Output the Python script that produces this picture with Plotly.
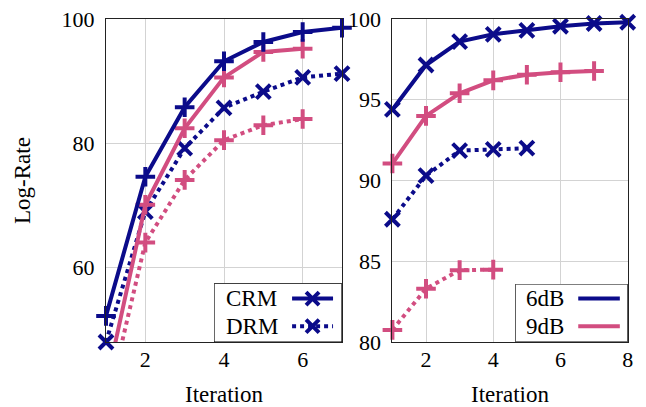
import plotly.graph_objects as go

# ---- data -------------------------------------------------------------
it_left = [1, 2, 3, 4, 5, 6, 7]
crm_6db = [52.2, 74.6, 85.8, 93.2, 96.3, 97.9, 98.6]
crm_9db = [41.0, 70.1, 82.4, 90.6, 94.7, 95.2]
drm_6db = [48.0, 69.0, 79.2, 85.7, 88.3, 90.6, 91.2]
drm_9db = [37.0, 64.0, 74.1, 80.5, 82.9, 83.9]

it_right = [1, 2, 3, 4, 5, 6, 7, 8]
r_crm_6db = [94.4, 97.15, 98.6, 99.05, 99.3, 99.55, 99.72, 99.8]
r_crm_9db = [91.05, 94.0, 95.4, 96.2, 96.55, 96.7, 96.78]
r_drm_6db = [87.6, 90.3, 91.85, 91.93, 92.0]
r_drm_9db = [80.75, 83.3, 84.45, 84.48]

left_xticks = [2, 4, 6]
left_yticks = [60, 80, 100]
right_xticks = [2, 4, 6, 8]
right_yticks = [80, 85, 90, 95, 100]

NAVY = "#0b0b8a"
PINK = "#d24d80"
FONT = "Liberation Serif"
FS_TICK = 22
FS_TEXT = 23
LW = 4
DOT = "4px,4px"

W, H = 646, 407

fig = go.Figure()


def series(x, y, color, dash, symbol, xa, ya, clip):
    fig.add_trace(go.Scatter(
        x=x, y=y, mode="lines+markers", xaxis=xa, yaxis=ya,
        line=dict(color=color, width=LW, dash=dash),
        marker=dict(symbol=symbol, size=14, color=color,
                    line=dict(color=color, width=4)),
        cliponaxis=clip, showlegend=False, hoverinfo="skip"))


# left panel
series(it_left[:len(drm_9db)], drm_9db, PINK, DOT, "cross-thin", "x", "y", True)
series(it_left, drm_6db, NAVY, DOT, "x-thin", "x", "y", False)
series(it_left[:len(crm_9db)], crm_9db, PINK, "solid", "cross-thin", "x", "y", True)
series(it_left, crm_6db, NAVY, "solid", "cross-thin", "x", "y", False)

# right panel
series(it_right[:len(r_drm_9db)], r_drm_9db, PINK, DOT, "cross-thin", "x2", "y2", False)
series(it_right[:len(r_drm_6db)], r_drm_6db, NAVY, DOT, "x-thin", "x2", "y2", False)
series(it_right[:len(r_crm_9db)], r_crm_9db, PINK, "solid", "cross-thin", "x2", "y2", False)
series(it_right, r_crm_6db, NAVY, "solid", "x-thin", "x2", "y2", False)


# ---- legends drawn as small boxes on their own hidden axes ------------
def legend_box(xa, ya, rows):
    fig.add_trace(go.Scatter(
        x=[0, 1, 1, 0, 0], y=[0, 0, 1, 1, 0], mode="lines", fill="toself",
        fillcolor="white", line=dict(color="black", width=1.2),
        xaxis=xa, yaxis=ya, showlegend=False, hoverinfo="skip"))
    for label, ypos, color, dash, symbol, x0, x1, tx in rows:
        fig.add_trace(go.Scatter(
            x=[x0, x1], y=[ypos, ypos], mode="lines", xaxis=xa, yaxis=ya,
            line=dict(color=color, width=LW, dash=dash),
            showlegend=False, hoverinfo="skip"))
        if symbol:
            fig.add_trace(go.Scatter(
                x=[(x0 + x1) / 2], y=[ypos], mode="markers", xaxis=xa, yaxis=ya,
                marker=dict(symbol=symbol, size=13, color=color,
                            line=dict(color=color, width=4)),
                showlegend=False, hoverinfo="skip"))
        fig.add_annotation(x=tx, y=ypos, xref=xa, yref=ya, text=label,
                           showarrow=False, xanchor="left", yanchor="middle",
                           font=dict(family=FONT, size=FS_TEXT, color="black"))


legend_box("x3", "y3", [
    ("CRM", 0.74, NAVY, "solid", "x-thin", 0.61, 0.93, 0.08),
    ("DRM", 0.27, NAVY, DOT, "x-thin", 0.61, 0.93, 0.08),
])
legend_box("x4", "y4", [
    ("6dB", 0.75, NAVY, "solid", None, 0.56, 0.93, 0.075),
    ("9dB", 0.27, PINK, "solid", None, 0.56, 0.93, 0.075),
])

# ---- axis titles --------------------------------------------------------
titlefont = dict(family=FONT, size=FS_TEXT, color="black")
for cx in (224, 510):
    fig.add_annotation(x=cx / W, y=1 - 394 / H, xref="paper", yref="paper",
                       text="Iteration", showarrow=False, xanchor="center",
                       yanchor="middle", font=titlefont)
fig.add_annotation(x=23 / W, y=1 - 181 / H, xref="paper", yref="paper",
                   text="Log-Rate", showarrow=False, textangle=-90,
                   xanchor="center", yanchor="middle", font=titlefont)

# ---- axes -------------------------------------------------------------
tickfont = dict(family=FONT, size=FS_TICK, color="black")
common = dict(showline=True, linecolor="#222222", linewidth=1.2, mirror=True,
              showgrid=True, gridcolor="#d3d3d3", gridwidth=1,
              zeroline=False, ticks="", tickfont=tickfont,
              automargin=False)

y_bottom = 1 - 342 / H
y_top = 1 - 19 / H

fig.update_layout(
    width=W, height=H,
    margin=dict(l=0, r=0, t=0, b=0),
    paper_bgcolor="white", plot_bgcolor="white",
    showlegend=False,
    xaxis=dict(domain=[106 / W, 342 / W], range=[1, 7],
               tickvals=left_xticks, ticklabelstandoff=-3, **common),
    yaxis=dict(domain=[y_bottom, y_top], range=[48, 100],
               tickvals=left_yticks, ticklabelstandoff=6, **common),
    xaxis2=dict(domain=[392.4 / W, 627.7 / W], range=[1, 8],
                tickvals=right_xticks, anchor="y2", ticklabelstandoff=-3,
                **common),
    yaxis2=dict(domain=[y_bottom, y_top], range=[80, 100],
                tickvals=right_yticks, anchor="x2", ticklabelstandoff=6,
                **common),
    xaxis3=dict(domain=[214 / W, 342 / W], range=[0, 1], visible=False,
                anchor="y3", fixedrange=True),
    yaxis3=dict(domain=[y_bottom, 1 - 283.3 / H], range=[0, 1],
                visible=False, anchor="x3", fixedrange=True),
    xaxis4=dict(domain=[515.3 / W, 627.7 / W], range=[0, 1],
                visible=False, anchor="y4", fixedrange=True),
    yaxis4=dict(domain=[y_bottom, 1 - 284 / H], range=[0, 1],
                visible=False, anchor="x4", fixedrange=True),
)

fig.write_html("out.html")
